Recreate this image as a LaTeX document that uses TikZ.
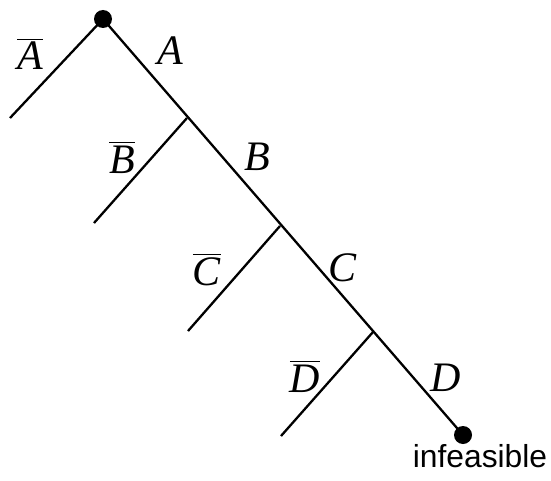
\documentclass[tikz,border=0pt]{standalone}
\usepackage{fontspec}
\setmainfont{Liberation Serif}
\newfontfamily\labelsans{Liberation Sans}
\tikzset{
  edge/.style={line width=1.15pt, line cap=butt},
  dotnode/.style={circle, fill=black, inner sep=0pt, minimum size=9pt},
  lit/.style={anchor=base, inner sep=0pt, font=\fontsize{21}{25}\selectfont\itshape},
  note/.style={anchor=base, inner sep=0pt, font=\labelsans\fontsize{15.9}{19}\selectfont}
}
\newcommand{\negl}[1]{$\overline{\mbox{\itshape #1}}$}
\begin{document}
\begin{tikzpicture}[x=0.5pt,y=-0.5pt]
\useasboundingbox (0,0) rectangle (551,481);
\node[dotnode] (root) at (103,19) {};
\node[dotnode] (leaf) at (463,435) {};
\coordinate (a0) at (10,118);
\coordinate (b1) at (187,118);
\coordinate (b0) at (94,223);
\coordinate (c1) at (280,226);
\coordinate (c0) at (188,331);
\coordinate (d1) at (373,332);
\coordinate (d0) at (281,436);
\draw[edge] (root.center) -- (leaf.center);
\draw[edge] (root.center) -- (a0);
\draw[edge] (b1) -- (b0);
\draw[edge] (c1) -- (c0);
\draw[edge] (d1) -- (d0);
\node[lit] (lAn) at (30,70) {\negl{A}};
\node[lit] (lA) at (170,65) {A};
\node[lit] (lBn) at (122,173) {\negl{B}};
\node[lit] (lB) at (257,170) {B};
\node[lit] (lCn) at (207,285) {\negl{C}};
\node[lit] (lC) at (343,281) {C};
\node[lit] (lDn) at (305,392) {\negl{D}};
\node[lit] (lD) at (446,391) {D};
\node[note] (inf) at (480,467) {infeasible};
\end{tikzpicture}
\end{document}
